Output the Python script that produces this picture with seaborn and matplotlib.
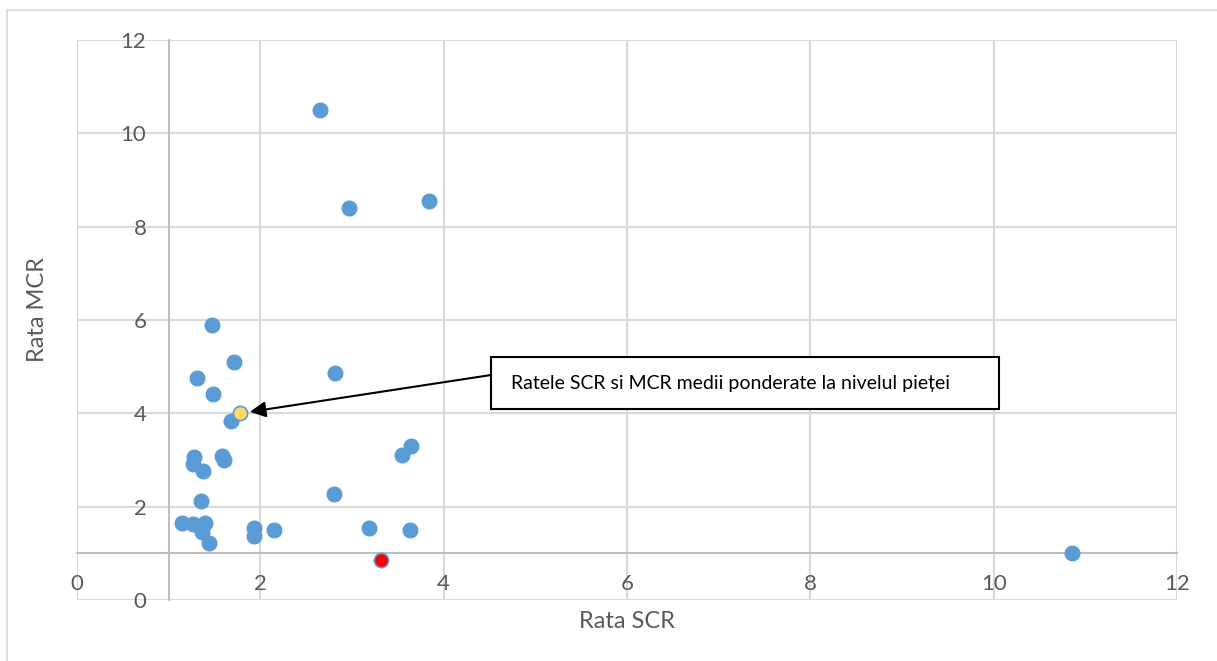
import matplotlib
matplotlib.use("Agg")
import matplotlib.pyplot as plt
import seaborn as sns
import pandas as pd
from matplotlib.patches import Rectangle

# ---- data ----
scr = [2.65, 2.97, 3.84, 1.47, 1.71, 1.31, 1.48, 2.81, 1.68, 1.28, 1.26, 1.38,
       1.58, 1.60, 3.64, 3.55, 2.80, 1.35, 1.14, 1.27, 1.40, 1.36, 1.44, 1.93,
       1.93, 2.15, 3.18, 3.63, 10.85]
mcr = [10.49, 8.41, 8.56, 5.89, 5.09, 4.75, 4.41, 4.86, 3.84, 3.07, 2.91, 2.77,
       3.09, 3.00, 3.29, 3.11, 2.27, 2.12, 1.66, 1.63, 1.64, 1.46, 1.23, 1.55,
       1.37, 1.50, 1.55, 1.51, 1.00]
market_scr = [1.78]
market_mcr = [4.00]
highlight_scr = [3.32]
highlight_mcr = [0.86]
ticks = [0, 2, 4, 6, 8, 10, 12]
x_title = "Rata SCR"
y_title = "Rata MCR"
note = "Ratele SCR si MCR medii ponderate la nivelul pieței"

sns.set_theme(style="white")
plt.rcParams['font.family'] = ['Lato', 'DejaVu Sans']

W, H = 1217, 661
fig = plt.figure(figsize=(W / 100, H / 100), dpi=100)
ax = fig.add_axes([77 / W, 1 - 600 / H, 1100 / W, 560 / H])

grid_c = "#D9D9D9"
blue = "#5B9BD5"

df = pd.DataFrame({"scr": scr, "mcr": mcr})
sns.scatterplot(data=df, x="scr", y="mcr", ax=ax, s=115, color=blue,
                edgecolor=blue, linewidth=0.8, zorder=3, clip_on=False)
sns.scatterplot(x=market_scr, y=market_mcr, ax=ax, s=105, color="#FFD966",
                edgecolor=blue, linewidth=1.2, zorder=4)
sns.scatterplot(x=highlight_scr, y=highlight_mcr, ax=ax, s=105, color="#FF0000",
                edgecolor=blue, linewidth=1.2, zorder=4)

ax.set_xlim(0, 12)
ax.set_ylim(0, 12)
ax.set_xticks(ticks)
ax.set_yticks(ticks)
ax.set_xticklabels([str(t) for t in ticks])
ax.set_yticklabels([str(t) for t in ticks])
ax.grid(True, color=grid_c, linewidth=1.5)
ax.set_axisbelow(True)
for gl in ax.get_xgridlines() + ax.get_ygridlines():
    gl.set_clip_on(False)

for s in ["top", "right"]:
    ax.spines[s].set_visible(False)
ax.spines["left"].set_position(("data", 1))
ax.spines["bottom"].set_position(("data", 1))
for s in ["left", "bottom"]:
    ax.spines[s].set_color("#BFBFBF")
    ax.spines[s].set_linewidth(1.5)
    ax.spines[s].set_zorder(2)
ax.tick_params(axis="both", length=0, labelsize=16, labelcolor="#595959")
ax.tick_params(axis="y", pad=16)
ax.tick_params(axis="x", pad=15)
ax.set_xlabel("")
ax.set_ylabel("")

fig.text(627 / W, 1 - 622 / H, x_title, fontsize=17, color="#595959",
         ha="center", va="center")
fig.text(38 / W, 1 - 310 / H, y_title, fontsize=17, color="#595959",
         ha="center", va="center", rotation=90)

# outer chart border
fig.patches.append(Rectangle((7 / W, -0.1), 1.2, 1 - 10 / H + 0.1,
                             transform=fig.transFigure, fill=False,
                             edgecolor=grid_c, linewidth=1.2))

# annotation box with arrow
bx0, bx1, by0, by1 = 491, 999, 357, 409
fig.patches.append(Rectangle((bx0 / W, 1 - by1 / H), (bx1 - bx0) / W, (by1 - by0) / H,
                             transform=fig.transFigure, facecolor="white",
                             edgecolor="black", linewidth=1.5, zorder=5))
fig.text(511 / W, 1 - 383 / H, note, fontsize=14, color="black",
         ha="left", va="center", zorder=6)
ax.annotate("", xy=(market_scr[0], market_mcr[0]), xycoords="data",
            xytext=(bx0 / W, 1 - 375 / H), textcoords="figure fraction",
            arrowprops=dict(arrowstyle="-|>", color="black", lw=1.5,
                            mutation_scale=24, shrinkA=0, shrinkB=7),
            zorder=5)

fig.savefig("out.png", dpi=100)
